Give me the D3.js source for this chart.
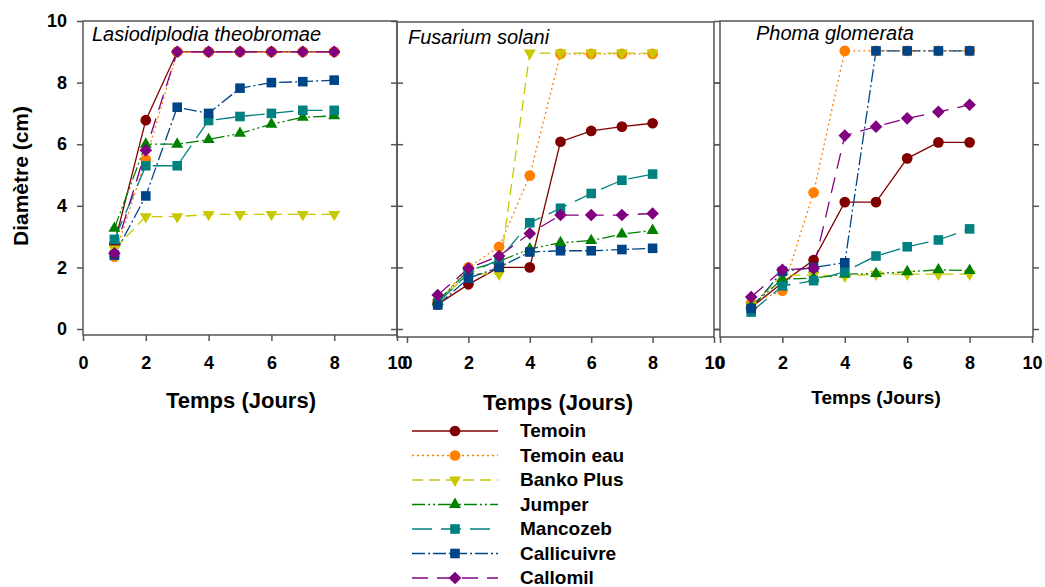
<!doctype html>
<html>
<head>
<meta charset="utf-8">
<script src="https://d3js.org/d3.v7.min.js"></script>
<style>
  body { margin: 0; background: #fff; }
  text { font-family: "Liberation Sans", Arial, sans-serif; }
</style>
</head>
<body>
<script>
// ---------- data ----------
const days = [1, 2, 3, 4, 5, 6, 7, 8];
const treatments = ["Temoin", "Temoin eau", "Banko Plus", "Jumper", "Mancozeb", "Callicuivre", "Callomil"];
const fungi = ["Lasiodiplodia theobromae", "Fusarium solani", "Phoma glomerata"];
const xTicks = [0, 2, 4, 6, 8, 10];
const yTicks = [0, 2, 4, 6, 8, 10];

// one row per treatment, same order as treatments
const lasiodiplodia = [
  [2.76, 6.78, 9, 9, 9, 9, 9, 9],
  [2.35, 5.5, 9, 9, 9, 9, 9, 9],
  [2.6, 3.65, 3.65, 3.72, 3.72, 3.72, 3.72, 3.72],
  [3.27, 6.0, 6.0, 6.15, 6.35, 6.65, 6.87, 6.92],
  [2.91, 5.3, 5.3, 6.77, 6.9, 7.0, 7.1, 7.1],
  [2.4, 4.32, 7.2, 7.0, 7.82, 8.0, 8.03, 8.08],
  [2.46, 5.8, 9, 9, 9, 9, 9, 9]
];
const fusarium = [
  [0.8, 1.45, 2.0, 2.0, 6.08, 6.43, 6.57, 6.68],
  [0.85, 2.0, 2.67, 4.98, 8.93, 8.93, 8.93, 8.93],
  [0.85, 1.8, 1.78, 8.96, 8.96, 8.96, 8.96, 8.96],
  [0.9, 1.9, 2.2, 2.6, 2.8, 2.87, 3.08, 3.2],
  [0.85, 1.8, 2.25, 3.45, 3.92, 4.4, 4.83, 5.03],
  [0.78, 1.65, 2.0, 2.5, 2.54, 2.54, 2.58, 2.62],
  [1.1, 1.97, 2.37, 3.1, 3.7, 3.7, 3.7, 3.75]
];
const phoma = [
  [0.7, 1.5, 2.24, 4.12, 4.12, 5.54, 6.06, 6.06],
  [0.85, 1.24, 4.43, 9.03, 9.03, 9.03, 9.03, 9.03],
  [0.75, 1.75, 1.75, 1.72, 1.78, 1.78, 1.78, 1.78],
  [0.75, 1.62, 1.65, 1.78, 1.8, 1.86, 1.92, 1.9],
  [0.55, 1.4, 1.57, 1.86, 2.37, 2.67, 2.89, 3.25],
  [0.67, 1.87, 2.0, 2.15, 9.03, 9.03, 9.03, 9.03],
  [1.04, 1.92, 1.97, 6.28, 6.57, 6.84, 7.05, 7.28]
];
const panelData = [lasiodiplodia, fusarium, phoma];

// ---------- styles ----------
const colors = ["#800000", "#ff8000", "#c8c800", "#008000", "#008080", "#004488", "#800080"];
const dashes = ["none", "2,3", "11,6", "13,3,2,3,2,3", "20,9", "13,3,2,3", "16,9"];
const symbols = [d3.symbolCircle, d3.symbolCircle, d3.symbolTriangle, d3.symbolTriangle,
                 d3.symbolSquare, d3.symbolSquare, d3.symbolSquare];
const symSize = [90, 90, 62, 62, 92, 92, 80];
const symRot  = [0, 0, 180, 0, 0, 0, 45];

const width = 1045, height = 587;
const svg = d3.select("body").append("svg").attr("width", width).attr("height", height);

// frames of the three panels
const panels = [
  { left: 83,  right: 397,  top: 21, bottom: 335, x0: 83,  x1: 397,  title: [92, 41],  titleSize: 20, xlab: [241, 408], xlabSize: 22, ylabels: true },
  { left: 397, right: 714,  top: 22, bottom: 337, x0: 407, x1: 714,  title: [408, 44], titleSize: 20, xlab: [558, 410], xlabSize: 22, ylabels: false },
  { left: 720, right: 1033, top: 21, bottom: 337, x0: 720, x1: 1032, title: [756, 40], titleSize: 20, xlab: [876, 404], xlabSize: 19, ylabels: false }
];

const y = d3.scaleLinear().domain([0, 10]).range([329, 21]);

panels.forEach((p, pi) => {
  const x = d3.scaleLinear().domain([0, 10]).range([p.x0, p.x1]);
  const g = svg.append("g");

  // frame
  g.append("rect")
    .attr("x", p.left).attr("y", p.top)
    .attr("width", p.right - p.left).attr("height", p.bottom - p.top)
    .attr("fill", "none").attr("stroke", "#555").attr("stroke-width", 1.5);

  // left + right ticks
  const yl = d3.axisLeft(y).tickValues(yTicks).tickSize(6).tickFormat(p.ylabels ? d3.format("d") : "");
  const ya = g.append("g").attr("transform", `translate(${p.left},0)`).call(yl);
  ya.select(".domain").remove();
  ya.selectAll("line").attr("stroke", "#555").attr("stroke-width", 1.5);
  ya.selectAll("text").attr("font-size", 18).attr("font-weight", "bold").attr("fill", "#000").attr("x", -16);
  const yr = d3.axisRight(y).tickValues(yTicks.slice(0, 5)).tickSize(6).tickFormat("");
  const ra = g.append("g").attr("transform", `translate(${p.right},0)`).call(yr);
  ra.select(".domain").remove();
  ra.selectAll("line").attr("stroke", "#555").attr("stroke-width", 1.5);

  // bottom axis
  const xa = g.append("g").attr("transform", `translate(0,${p.bottom})`)
    .call(d3.axisBottom(x).tickValues(xTicks).tickSize(6).tickFormat(d3.format("d")));
  xa.select(".domain").remove();
  xa.selectAll("line").attr("stroke", "#555").attr("stroke-width", 1.5);
  xa.selectAll("text").attr("font-size", 18).attr("font-weight", "bold").attr("fill", "#000")
    .attr("y", 356 - p.bottom);

  // panel title
  g.append("text").attr("x", p.title[0]).attr("y", p.title[1])
    .attr("font-size", p.titleSize).attr("font-style", "italic").text(fungi[pi]);

  // x label
  g.append("text").attr("x", p.xlab[0]).attr("y", p.xlab[1])
    .attr("text-anchor", "middle").attr("font-size", p.xlabSize).attr("font-weight", "bold")
    .text("Temps (Jours)");

  // series
  const line = d3.line().x((d, i) => x(days[i])).y(d => y(d));
  panelData[pi].forEach((vals, si) => {
    g.append("path").datum(vals)
      .attr("d", line).attr("fill", "none")
      .attr("stroke", colors[si]).attr("stroke-width", 1.3)
      .attr("stroke-dasharray", dashes[si]);
  });
  panelData[pi].forEach((vals, si) => {
    g.selectAll(null).data(vals).join("path")
      .attr("d", d3.symbol().type(symbols[si]).size(symSize[si]))
      .attr("transform", (d, i) => `translate(${x(days[i])},${y(d)}) rotate(${symRot[si]})`)
      .attr("fill", colors[si]);
  });
});

// y title
svg.append("text")
  .attr("transform", "translate(28,176) rotate(-90)")
  .attr("text-anchor", "middle").attr("font-size", 21).attr("font-weight", "bold")
  .text("Diamètre (cm)");

// legend
const leg = svg.append("g");
treatments.forEach((t, i) => {
  const ly = 431 + i * 24.5;
  leg.append("line").attr("x1", 412).attr("x2", 498).attr("y1", ly).attr("y2", ly)
    .attr("stroke", colors[i]).attr("stroke-width", 1.3).attr("stroke-dasharray", dashes[i]);
  leg.append("path")
    .attr("d", d3.symbol().type(symbols[i]).size(symSize[i]))
    .attr("transform", `translate(455,${ly}) rotate(${symRot[i]})`)
    .attr("fill", colors[i]);
  leg.append("text").attr("x", 520).attr("y", ly + 6)
    .attr("font-size", 19).attr("font-weight", "bold").text(t);
});
</script>
</body>
</html>
